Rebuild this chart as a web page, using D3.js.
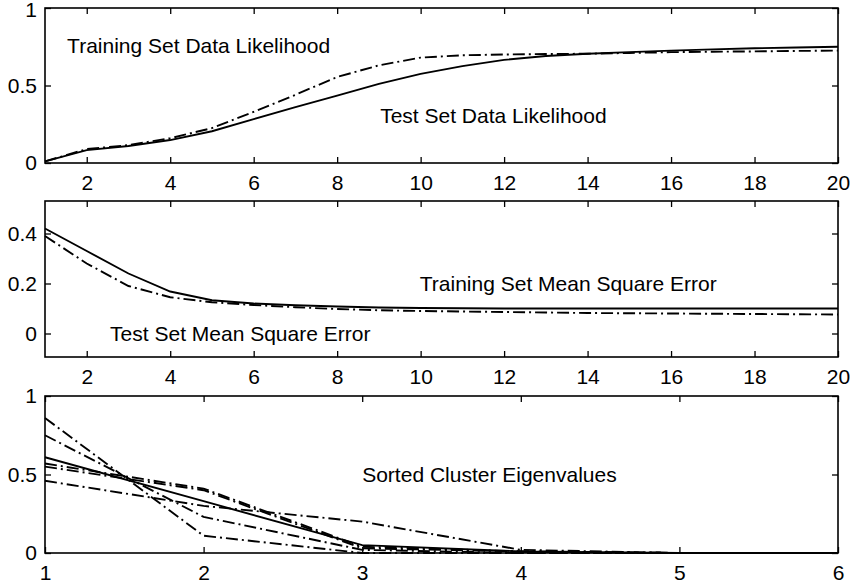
<!DOCTYPE html>
<html>
<head>
<meta charset="utf-8">
<script src="https://cdn.jsdelivr.net/npm/d3@7"></script>
<style>
  body { margin: 0; background: #fff; }
  svg text { font-family: "Liberation Sans", Arial, Helvetica, sans-serif; font-size: 21px; fill: #000; }
</style>
</head>
<body>
<svg width="852" height="586"></svg>
<script>
// panel 1: data likelihood vs number of clusters
let clusters = d3.range(1, 21);
let testLikelihood = [0.01, 0.083, 0.11, 0.148, 0.205, 0.283, 0.36, 0.435, 0.51, 0.575, 0.625, 0.665, 0.69, 0.705, 0.715, 0.725, 0.733, 0.74, 0.745, 0.75];
let trainLikelihood = [0.01, 0.09, 0.115, 0.16, 0.225, 0.33, 0.44, 0.555, 0.63, 0.68, 0.695, 0.70, 0.703, 0.705, 0.71, 0.715, 0.718, 0.72, 0.723, 0.725];

// panel 2: mean square error
let trainMSE = [0.42, 0.33, 0.24, 0.168, 0.133, 0.12, 0.113, 0.108, 0.104, 0.102, 0.101, 0.10, 0.10, 0.10, 0.10, 0.10, 0.10, 0.10, 0.10, 0.10];
let testMSE = [0.39, 0.28, 0.19, 0.145, 0.125, 0.114, 0.105, 0.098, 0.093, 0.09, 0.088, 0.086, 0.084, 0.082, 0.081, 0.08, 0.079, 0.078, 0.077, 0.076];

// panel 3: sorted cluster eigenvalues
let eigIndex = [1, 2, 3, 4, 5, 6];
let eigSolid = [0.61, 0.33, 0.05, 0.01, 0, 0];
let eigDashDot = [
  [0.86, 0.11, 0.0, 0, 0, 0],
  [0.75, 0.23, 0.02, 0, 0, 0],
  [0.46, 0.30, 0.20, 0.02, 0, 0],
  [0.57, 0.41, 0.04, 0.01, 0, 0],
  [0.55, 0.40, 0.03, 0.01, 0, 0]
];

let likelihoodTicks = [0, 0.5, 1];
let mseTicks = [0, 0.2, 0.4];
let eigTicks = [0, 0.5, 1];
let clusterTicks = [2, 4, 6, 8, 10, 12, 14, 16, 18, 20];

let svg = d3.select('svg');
let left = 45, right = 838;
let dashDot = '12,4,2,4';

function panel(top, bottom, xDomain, yDomain, xTicks, yTicks) {
  let x = d3.scaleLinear().domain(xDomain).range([left, right]);
  let y = d3.scaleLinear().domain(yDomain).range([bottom, top]);
  let g = svg.append('g');

  g.append('g').attr('transform', `translate(0,${bottom})`)
    .call(d3.axisBottom(x).tickValues(xTicks).tickSize(-6).tickPadding(12).tickFormat(d3.format('d')));
  g.append('g').attr('transform', `translate(0,${top})`)
    .call(d3.axisTop(x).tickValues(xTicks).tickSize(-6).tickFormat(''));
  g.append('g').attr('transform', `translate(${left},0)`)
    .call(d3.axisLeft(y).tickValues(yTicks).tickSize(-6).tickPadding(8).tickFormat(String));
  g.append('g').attr('transform', `translate(${right},0)`)
    .call(d3.axisRight(y).tickValues(yTicks).tickSize(-6).tickFormat(''));

  g.selectAll('.domain').remove();
  g.selectAll('.tick line').attr('stroke', '#000').attr('stroke-width', 1.3);
  g.selectAll('.tick text').style('font-size', '21px');

  g.append('rect')
    .attr('x', left).attr('y', top)
    .attr('width', right - left).attr('height', bottom - top)
    .attr('fill', 'none').attr('stroke', '#000').attr('stroke-width', 1.6);

  return { g: g, x: x, y: y };
}

function drawLine(p, xs, ys, dash) {
  let line = d3.line()
    .x(function(d, i) { return p.x(xs[i]); })
    .y(function(d) { return p.y(d); });
  p.g.append('path')
    .datum(ys)
    .attr('d', line)
    .attr('fill', 'none')
    .attr('stroke', '#000')
    .attr('stroke-width', 1.9)
    .attr('stroke-dasharray', dash);
}

function label(p, xv, yv, text) {
  p.g.append('text').attr('x', p.x(xv)).attr('y', p.y(yv)).text(text);
}

let p1 = panel(8, 163, [1, 20], [0, 1], clusterTicks, likelihoodTicks);
// keep the top "1" inside the page
p1.g.selectAll('.tick text').filter(function(d) { return d === 1; }).attr('dy', '0.4em');
drawLine(p1, clusters, testLikelihood, null);
drawLine(p1, clusters, trainLikelihood, dashDot);
label(p1, 1.53, 0.71, 'Training Set Data Likelihood');
label(p1, 9.03, 0.26, 'Test Set Data Likelihood');

let p2 = panel(201, 357, [1, 20], [-0.094, 0.53], clusterTicks, mseTicks);
drawLine(p2, clusters, trainMSE, null);
drawLine(p2, clusters, testMSE, dashDot);
label(p2, 9.98, 0.17, 'Training Set Mean Square Error');
label(p2, 2.56, -0.03, 'Test Set Mean Square Error');

let p3 = panel(396, 553, [1, 6], [0, 1], eigIndex, eigTicks);
eigDashDot.forEach(function(s) { drawLine(p3, eigIndex, s, dashDot); });
drawLine(p3, eigIndex, eigSolid, null);
label(p3, 3.0, 0.45, 'Sorted Cluster Eigenvalues');
</script>
</body>
</html>
